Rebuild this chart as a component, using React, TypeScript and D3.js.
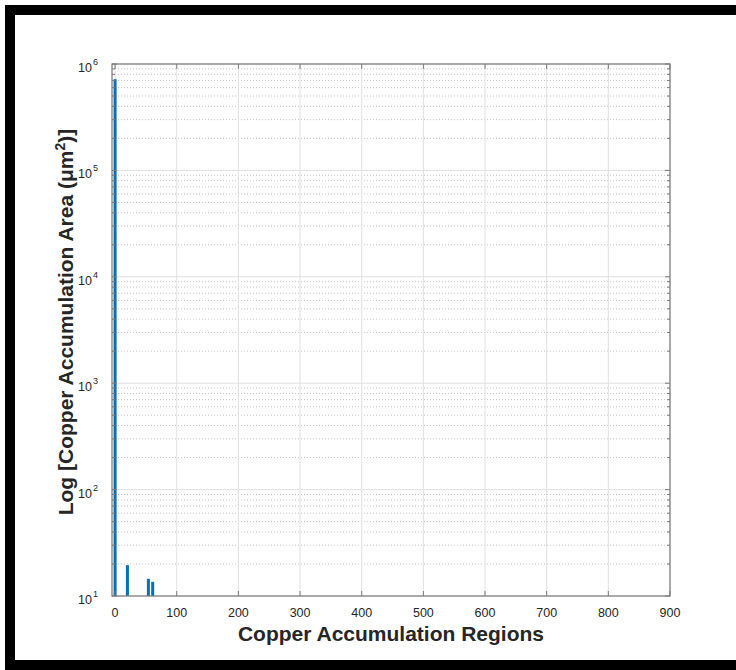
import React from 'react';
import * as d3 from 'd3';

// region index and copper area (µm²); smaller regions fall below the 10¹ floor
const regionIndex = [0, 20, 54, 61];
const regionArea = [720000, 19.5, 14.5, 13.6];
const xTicks = [0, 100, 200, 300, 400, 500, 600, 700, 800, 900];
const yExponents = [1, 2, 3, 4, 5, 6];

const W = 736;
const H = 670;
const left = 112, right = 670, top = 64, bottom = 596;

export default function App() {
	const x = d3.scaleLinear().domain([-5, 900]).range([left, right]);
	const y = d3.scaleLog().domain([10, 1e6]).range([bottom, top]);

	const minor: number[] = [];
	yExponents.slice(0, -1).forEach(e => {
		for (let m = 2; m <= 9; m++) minor.push(m * Math.pow(10, e));
	});

	const font = 'Liberation Sans, Arial, Helvetica, sans-serif';
	const axisColor = '#7a7a7a';
	const textColor = '#262626';
	const barW = 3;

	return (
		<svg width={W} height={H} style={{ position: 'absolute', left: 0, top: 0 }} fontFamily={font}>
			<rect x={0} y={0} width={W} height={H} fill="#fff" />
			{/* black frame */}
			<rect x={10} y={10} width={W + 20} height={H - 15} fill="none" stroke="#000" strokeWidth={10} />

			{/* grid */}
			<g>
				{minor.map(v => (
					<line key={'mg' + v} x1={left} x2={right} y1={y(v)} y2={y(v)}
						stroke="#c4c4c4" strokeWidth={1} strokeDasharray="1,2" />
				))}
				{yExponents.map(e => (
					<line key={'yg' + e} x1={left} x2={right} y1={y(Math.pow(10, e))} y2={y(Math.pow(10, e))}
						stroke="#e0e0e0" strokeWidth={1} />
				))}
				{xTicks.map(t => (
					<line key={'xg' + t} x1={x(t)} x2={x(t)} y1={top} y2={bottom}
						stroke="#e0e0e0" strokeWidth={1} />
				))}
			</g>

			{/* bars */}
			{regionIndex.map((r, i) => (
				<rect key={'b' + i} x={x(r) - barW / 2} y={y(regionArea[i])} width={barW}
					height={y(10) - y(regionArea[i])} fill="#0072BD" />
			))}

			{/* axes box */}
			<rect x={left} y={top} width={right - left} height={bottom - top} fill="none" stroke={axisColor} strokeWidth={1.2} />

			{/* x ticks */}
			{xTicks.map(t => (
				<g key={'xt' + t}>
					<line x1={x(t)} x2={x(t)} y1={bottom} y2={bottom - 5} stroke={axisColor} />
					<line x1={x(t)} x2={x(t)} y1={top} y2={top + 5} stroke={axisColor} />
					<text x={x(t)} y={bottom + 21} textAnchor="middle" fontSize={12.5} fill={textColor}>{t}</text>
				</g>
			))}

			{/* y ticks */}
			{minor.map(v => (
				<g key={'ymt' + v}>
					<line x1={left} x2={left + 3} y1={y(v)} y2={y(v)} stroke={axisColor} />
					<line x1={right} x2={right - 3} y1={y(v)} y2={y(v)} stroke={axisColor} />
				</g>
			))}
			{yExponents.map(e => {
				const yy = y(Math.pow(10, e));
				return (
					<g key={'yt' + e}>
						<line x1={left} x2={left + 5} y1={yy} y2={yy} stroke={axisColor} />
						<line x1={right} x2={right - 5} y1={yy} y2={yy} stroke={axisColor} />
						<text x={92} y={yy + 8} textAnchor="end" fontSize={12.5} fill={textColor}>10</text>
						<text x={93} y={yy + 1} textAnchor="start" fontSize={9} fill={textColor}>{e}</text>
					</g>
				);
			})}

			{/* axis titles */}
			<text x={(left + right) / 2} y={641} textAnchor="middle" fontSize={21} fontWeight="bold" fill={textColor}>
				Copper Accumulation Regions
			</text>
			<text transform={`translate(73,${(top + bottom) / 2 - 8}) rotate(-90)`} textAnchor="middle"
				fontSize={21} fontWeight="bold" fill={textColor}>
				Log [Copper Accumulation Area (μm<tspan baselineShift="super" fontSize={14}>2</tspan>)]
			</text>
		</svg>
	);
}
